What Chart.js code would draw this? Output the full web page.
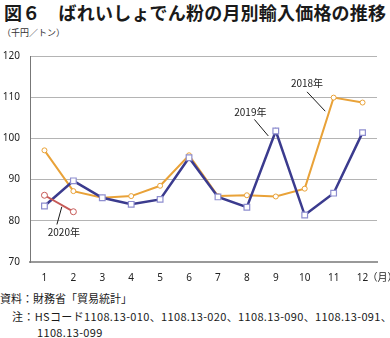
<!DOCTYPE html>
<html lang="ja">
<head>
<meta charset="utf-8">
<script src="https://cdn.jsdelivr.net/npm/chart.js@4/dist/chart.umd.min.js"></script>
<style>
  html, body { margin: 0; padding: 0; background: #fff; }
  body { width: 390px; height: 338px; position: relative; overflow: hidden; font-family: "Noto Sans CJK JP", sans-serif; color: #222; }
  #title { position: absolute; left: 4px; top: -1px; font-size: 18px; font-weight: 700; line-height: 26px; letter-spacing: 0.2px; white-space: nowrap; color: #1a1a1a; }
  #unit { position: absolute; left: 2px; top: 26px; font-size: 9px; line-height: 14px; color: #333; }
  #wrap { position: absolute; left: 0; top: 40px; width: 390px; height: 245px; }
  .note { position: absolute; font-size: 11px; line-height: 16px; white-space: nowrap; color: #1a1a1a; }
  .wide { letter-spacing: 0.35px; }
</style>
</head>
<body>
<div id="title">図６　ばれいしょでん粉の月別輸入価格の推移</div>
<div id="unit">（千円／トン）</div>
<div id="wrap"><canvas id="myChart"></canvas></div>
<div class="note" style="left:0;top:290px;">資料：財務省「貿易統計」</div>
<div class="note wide" style="left:12px;top:308px;">注：HSコード1108.13-010、1108.13-020、1108.13-090、1108.13-091、</div>
<div class="note wide" style="left:37px;top:324px;">1108.13-099</div>
<script>
// 月
const months = ['1', '2', '3', '4', '5', '6', '7', '8', '9', '10', '11', '12'];

// 千円/トン
const values2018 = [97.1, 87.2, 85.6, 86.0, 88.5, 95.9, 86.0, 86.2, 85.9, 87.8, 109.9, 108.7];
const values2019 = [83.6, 89.7, 85.6, 84.0, 85.2, 95.3, 85.8, 83.3, 101.8, 81.4, 86.7, 101.4];
const values2020 = [86.2, 82.2];

const yTicks = [70, 80, 90, 100, 110, 120];

// series labels with leader lines: label position and line ends as (month index, value)
const callouts = [
  { text: '2018年', x: 9.08, y: 113.5, from: [9.08, 111.3], to: [9.71, 106.6] },
  { text: '2019年', x: 7.12, y: 106.3, from: [7.26, 104.6], to: [7.74, 100.6] },
  { text: '2020年', x: 0.67, y: 77.2, from: [0.60, 83.4], to: [0.43, 79.1] }
];

const COLORS = {
  orange: '#e9a238',
  navy: '#3b3b8e',
  lavender: '#8e8ecf',
  red: '#c65a57',
  grid: '#b4b4b4'
};

const calloutPlugin = {
  id: 'callouts',
  afterDraw(chart) {
    const ctx = chart.ctx;
    const xs = chart.scales.x;
    const ys = chart.scales.y;
    const x0 = xs.getPixelForValue(0);
    const step = xs.getPixelForValue(1) - x0;
    const px = v => x0 + v * step;
    ctx.save();
    ctx.setLineDash([]);
    ctx.strokeStyle = '#1a1a1a';
    ctx.lineWidth = 1;
    callouts.forEach(c => {
      ctx.beginPath();
      ctx.moveTo(px(c.from[0]), ys.getPixelForValue(c.from[1]));
      ctx.lineTo(px(c.to[0]), ys.getPixelForValue(c.to[1]));
      ctx.stroke();
    });
    ctx.fillStyle = '#222';
    ctx.font = '10px "Noto Sans CJK JP"';
    ctx.textAlign = 'center';
    ctx.textBaseline = 'middle';
    callouts.forEach(c => {
      ctx.fillText(c.text, px(c.x), ys.getPixelForValue(c.y));
    });
    // unit after the last month label
    ctx.textAlign = 'left';
    ctx.fillText('（月）', px(11) + 5, chart.chartArea.bottom + 15);
    ctx.restore();
  }
};

const data = {
  labels: months,
  datasets: [
    {
      label: '2020年',
      data: values2020,
      borderColor: COLORS.red,
      backgroundColor: '#fff',
      borderWidth: 2,
      pointStyle: 'circle',
      pointRadius: 3,
      pointBorderWidth: 1,
      pointBorderColor: COLORS.red,
      pointBackgroundColor: '#fff',
      order: 0
    },
    {
      label: '2019年',
      data: values2019,
      borderColor: COLORS.navy,
      backgroundColor: '#fff',
      borderWidth: 2.5,
      pointStyle: 'rect',
      pointRadius: 4,
      pointBorderWidth: 1.2,
      pointBorderColor: COLORS.lavender,
      pointBackgroundColor: '#fff',
      order: 1
    },
    {
      label: '2018年',
      data: values2018,
      borderColor: COLORS.orange,
      backgroundColor: '#fff',
      borderWidth: 2,
      pointStyle: 'circle',
      pointRadius: 2.5,
      pointBorderWidth: 1,
      pointBorderColor: COLORS.orange,
      pointBackgroundColor: '#fff',
      order: 2
    }
  ]
};

const config = {
  type: 'line',
  data: data,
  options: {
    responsive: true,
    maintainAspectRatio: false,
    animation: false,
    layout: { padding: { top: 8, right: 13, bottom: 0, left: 0 } },
    plugins: {
      legend: { display: false },
      tooltip: { enabled: false }
    },
    scales: {
      x: {
        offset: true,
        grid: { display: false, drawTicks: false },
        border: { display: true, color: '#999', width: 2 },
        ticks: {
          padding: 10,
          color: '#222',
          font: { family: '"Noto Sans"', size: 10 },
          maxRotation: 0
        },
        afterFit(scale) { scale.height = 23; }
      },
      y: {
        min: 70,
        max: 120,
        afterBuildTicks(scale) { scale.ticks = yTicks.map(v => ({ value: v })); },
        grid: { color: COLORS.grid, lineWidth: 1, drawTicks: false },
        border: { display: true, color: '#777', width: 1 },
        ticks: {
          padding: 10,
          color: '#222',
          font: { family: '"Noto Sans"', size: 10 }
        },
        afterFit(scale) { scale.width = 30; }
      }
    }
  },
  plugins: [calloutPlugin]
};

const myChart = new Chart(document.getElementById('myChart'), config);
</script>
</body>
</html>
